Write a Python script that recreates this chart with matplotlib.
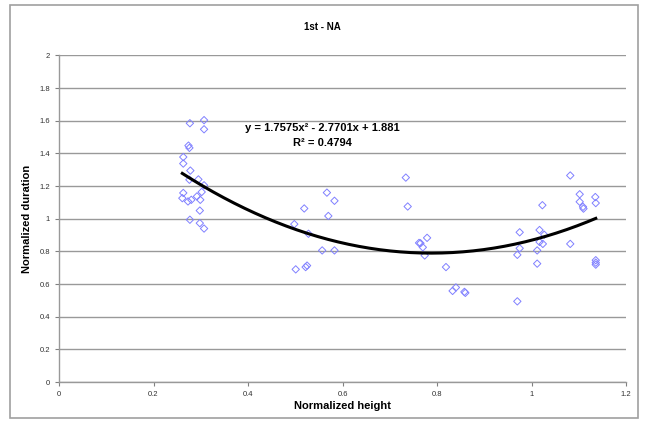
import matplotlib
matplotlib.use("Agg")
import matplotlib.pyplot as plt
import numpy as np
from matplotlib.patches import Rectangle

plt.rcParams['font.family'] = ['Liberation Sans', 'DejaVu Sans']

# Data
height = [0.277, 0.307, 0.307, 0.274, 0.276, 0.263, 0.263, 0.278, 0.276, 0.295,
          0.307, 0.302, 0.263, 0.261, 0.273, 0.280, 0.292, 0.299, 0.298, 0.277,
          0.298, 0.307,
          0.498, 0.501, 0.519, 0.522, 0.525, 0.528, 0.557, 0.567, 0.570, 0.583, 0.583,
          0.734, 0.738, 0.762, 0.765, 0.770, 0.774, 0.779, 0.819, 0.833, 0.840,
          0.858, 0.860,
          0.970, 0.970, 0.975, 0.975, 1.012, 1.012, 1.017, 1.017, 1.023, 1.024,
          1.027, 1.082, 1.082, 1.102, 1.102, 1.109, 1.110, 1.135, 1.136, 1.136,
          1.136, 1.136]
duration = [1.585, 1.604, 1.548, 1.448, 1.434, 1.378, 1.338, 1.295, 1.239, 1.241,
            1.205, 1.164, 1.158, 1.126, 1.106, 1.116, 1.137, 1.116, 1.050, 0.994,
            0.973, 0.940,
            0.967, 0.690, 1.063, 0.704, 0.713, 0.908, 0.806, 1.160, 1.017, 1.110, 0.806,
            1.252, 1.075, 0.852, 0.850, 0.825, 0.775, 0.883, 0.704, 0.558, 0.579,
            0.552, 0.546,
            0.779, 0.494, 0.917, 0.819, 0.806, 0.725, 0.931, 0.858, 1.083, 0.846,
            0.902, 1.265, 0.846, 1.150, 1.104, 1.073, 1.062, 1.133, 1.096, 0.746,
            0.731, 0.719]

coef = [1.7575, -2.7701, 1.881]
r2 = 0.4794

xticks = [0, 0.2, 0.4, 0.6, 0.8, 1, 1.2]
xticklabels = ['0', '0.2', '0.4', '0.6', '0.8', '1', '1.2']
yticks = [0, 0.2, 0.4, 0.6, 0.8, 1, 1.2, 1.4, 1.6, 1.8, 2]
yticklabels = ['0', '0.2', '0.4', '0.6', '0.8', '1', '1.2', '1.4', '1.6', '1.8', '2']

W, H = 645, 423
fig = plt.figure(figsize=(W / 100, H / 100), dpi=100)
fig.patch.set_facecolor('white')

# chart border
fig.add_artist(Rectangle((10 / W, 1 - 418 / H), 628 / W, 413 / H,
                         transform=fig.transFigure, fill=False,
                         edgecolor='#a0a0a0', linewidth=1.2))

ax = fig.add_axes([59 / W, 1 - 382 / H, 567 / W, 326.5 / H])
ax.set_xlim(0, 1.2)
ax.set_ylim(0, 2)

ax.scatter(height, duration, marker='D', s=14, facecolors='none',
           edgecolors='#8080ff', linewidths=0.7, zorder=3)

xs = np.linspace(min(height), max(height), 200)
ax.plot(xs, np.polyval(coef, xs), color='black', linewidth=2.2, zorder=4)

ax.set_xticks(xticks)
ax.set_xticklabels(xticklabels)
ax.set_yticks(yticks)
ax.set_yticklabels(yticklabels)
ax.tick_params(axis='both', labelsize=5.5, colors='#808080', labelcolor='#303030',
               direction='out', length=3, width=0.8)
ax.grid(axis='y', color='#999999', linewidth=1.0)
ax.set_axisbelow(True)
for s in ['top', 'right']:
    ax.spines[s].set_visible(False)
for s in ['left', 'bottom']:
    ax.spines[s].set_color('#999999')
    ax.spines[s].set_linewidth(1.0)

ax.set_xlabel('Normalized height', fontsize=8, fontweight='bold', labelpad=2)
ax.set_ylabel('Normalized duration', fontsize=8, fontweight='bold', labelpad=5)

fig.text(322 / W, 1 - 27 / H, '1st - NA', ha='center', va='center',
         fontsize=7, fontweight='bold')

eq1 = 'y = {:.4f}x² - {:.4f}x + {:.3f}'.format(coef[0], -coef[1], coef[2])
eq2 = 'R² = {:.4f}'.format(r2)
ax.text(0.557, 1.556, eq1, ha='center', va='center', fontsize=8, fontweight='bold')
ax.text(0.557, 1.464, eq2, ha='center', va='center', fontsize=8, fontweight='bold')

fig.savefig('out.png', dpi=100, facecolor='white')
